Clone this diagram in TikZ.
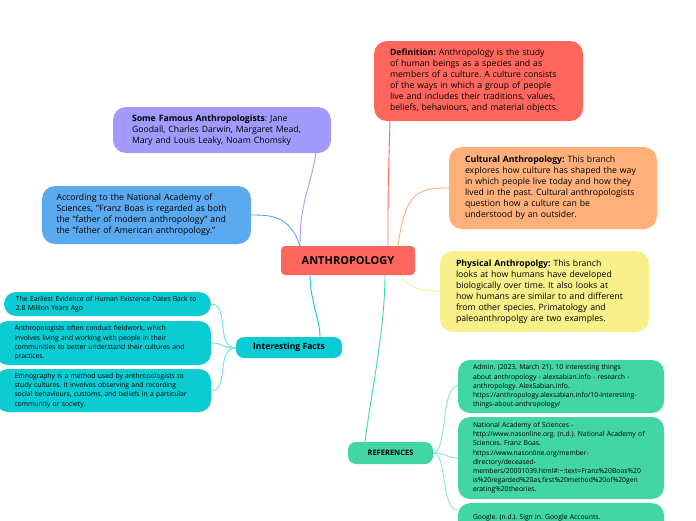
\documentclass[tikz,border=0pt]{standalone}
\usepackage{fontspec}
\setmainfont{Open Sans}
\begin{document}
\frenchspacing\hyphenpenalty=10000 \exhyphenpenalty=10000
\begin{tikzpicture}[x=1pt,y=-1pt,
  box/.style={rounded corners=13pt,inner sep=0pt,align=left,font=\fontsize{8.7}{11}\selectfont},
  sbox/.style={rounded corners=12pt,inner sep=0pt,align=left,font=\fontsize{6.8}{9.2}\selectfont},
  con/.style={line width=0.9pt}]
\definecolor{cred}{HTML}{FF675E}
\definecolor{corange}{HTML}{FFB07A}
\definecolor{cyel}{HTML}{F8F08A}
\definecolor{cpur}{HTML}{A39AFD}
\definecolor{cblue}{HTML}{5BAAF0}
\definecolor{ccyan}{HTML}{0BCBD3}
\definecolor{cgreen}{HTML}{41D6A4}
\clip (0,0) rectangle (696,520);
\useasboundingbox (0,0) rectangle (696,520);
\fill[white] (0,0) rectangle (696,520);
% connectors
\draw[con,cred] (388,246) .. controls (388,190) .. (390,121);
\draw[con,corange] (398,246) .. controls (405,190) and (420,188) .. (449,188);
\draw[con,cyel] (400,275) .. controls (410,290) and (425,291) .. (440,291);
\draw[con,cpur] (300,246) .. controls (300,200) and (310,190) .. (316,153);
\draw[con,cblue] (300,246) .. controls (290,215) and (270,215) .. (251,215);
\draw[con,ccyan] (310,275) .. controls (310,300) and (320,320) .. (320,337);
\draw[con,cgreen] (385,275) .. controls (385,330) and (370,400) .. (365,442);
\draw[con,ccyan!60] (236,348) .. controls (215,348) and (230,304) .. (211,304);
\draw[con,ccyan!60] (236,348) .. controls (220,348) and (225,343) .. (211,343);
\draw[con,ccyan!60] (236,348) .. controls (215,348) and (230,391) .. (211,391);
\draw[con,cgreen!60] (433,453) .. controls (448,453) and (440,386) .. (458,386);
\draw[con,cgreen!60] (433,453) .. controls (448,453) and (445,458) .. (458,458);
\draw[con,cgreen!60] (433,453) .. controls (448,453) and (440,510) .. (458,510);
% nodes
\node[box,fill=cred,minimum width=209pt,minimum height=80pt,text width=177pt] (def) at (478.5,81)
 {\textbf{Definition:} Anthropology is the study of human beings as a species and as members of a culture. A culture consists of the ways in which a group of people live and includes their traditions, values, beliefs, behaviours, and material objects.};
\node[box,fill=corange,minimum width=208pt,minimum height=82pt,text width=176pt] (cult) at (553,188)
 {\textbf{Cultural Anthropology:} This branch explores how culture has shaped the way in which people live today and how they lived in the past. Cultural anthropologists question how a culture can be\\ understood by an outsider.};
\node[box,fill=cyel,minimum width=209pt,minimum height=81pt,text width=177pt] (phys) at (544.5,291.5)
 {\textbf{Physical Anthropolgy:} This branch looks at how humans have developed biologically over time. It also looks at how humans are similar to and different from other species. Primatology and paleoanthropolgy are two examples.};
\node[rounded corners=4pt,fill=cred,minimum width=134pt,minimum height=29pt,font=\fontsize{11}{13}\selectfont\bfseries] (center) at (348,260.5) {ANTHROPOLOGY};
\node[box,fill=cpur,minimum width=218pt,minimum height=46pt,text width=180pt] (fam) at (222,130)
 {\textbf{Some Famous Anthropologists}: Jane Goodall, Charles Darwin, Margaret Mead, Mary and Louis Leaky, Noam Chomsky};
\node[box,fill=cblue,minimum width=209pt,minimum height=58pt,text width=180pt] (nas) at (146.5,215)
 {According to the National Academy of Sciences, "Franz Boas is regarded as both the "father of modern anthropology" and the "father of American anthropology."};
\node[rounded corners=8pt,fill=ccyan,minimum width=106pt,minimum height=21pt,font=\fontsize{8.6}{10}\selectfont\bfseries] (facts) at (289,347.5) {Interesting Facts};
\node[sbox,fill=ccyan,minimum width=207pt,minimum height=24pt,text width=183pt] (f1) at (107.5,304)
 {The Earliest Evidence of Human Existence Dates Back to 2.8 Million Years Ago};
\node[sbox,fill=ccyan,minimum width=215pt,minimum height=44pt,text width=178pt] (f2) at (103.5,343)
 {Anthropologists often conduct fieldwork, which involves living and working with people in their communities to better understand their cultures and practices.};
\node[sbox,fill=ccyan,minimum width=215pt,minimum height=43pt,text width=178pt] (f3) at (103.5,390.5)
 {Ethnography is a method used by anthropologists to study cultures. It involves observing and recording social behaviours, customs, and beliefs in a particular community or society.};
\node[rounded corners=8pt,fill=cgreen,minimum width=85pt,minimum height=22pt,font=\fontsize{7.5}{9}\selectfont\bfseries] (refs) at (390.5,453) {REFERENCES};
\node[sbox,fill=cgreen,minimum width=206pt,minimum height=53pt,text width=176pt] (r1) at (561,386.5)
 {Admin. (2023, March 21). 10 interesting things about anthropology - alexsabian.info - research - anthropology. AlexSabian.info.\\ https://anthropology.alexsabian.info/10-interesting-\\things-about-anthropology/};
\node[sbox,fill=cgreen,minimum width=206pt,minimum height=82pt,text width=176pt] (r2) at (561,458)
 {National Academy of Sciences -\\ http://www.nasonline.org. (n.d.). National Academy of Sciences. Franz Boas.\\ https://www.nasonline.org/member-\\directory/deceased-\\members/20001039.html\#:\textasciitilde:text=Franz\%20Boas\%20\\is\%20regarded\%20as,first\%20method\%20of\%20gen\\erating\%20theories.};
\node[sbox,fill=cgreen,minimum width=206pt,minimum height=40pt,text width=176pt,anchor=north] (r3) at (561,503)
 {\vspace*{1pt}Google. (n.d.). Sign in. Google Accounts.\\ https://classroom.google.com/c/NjQ2ODQzMzIzMz};
\end{tikzpicture}
\end{document}
